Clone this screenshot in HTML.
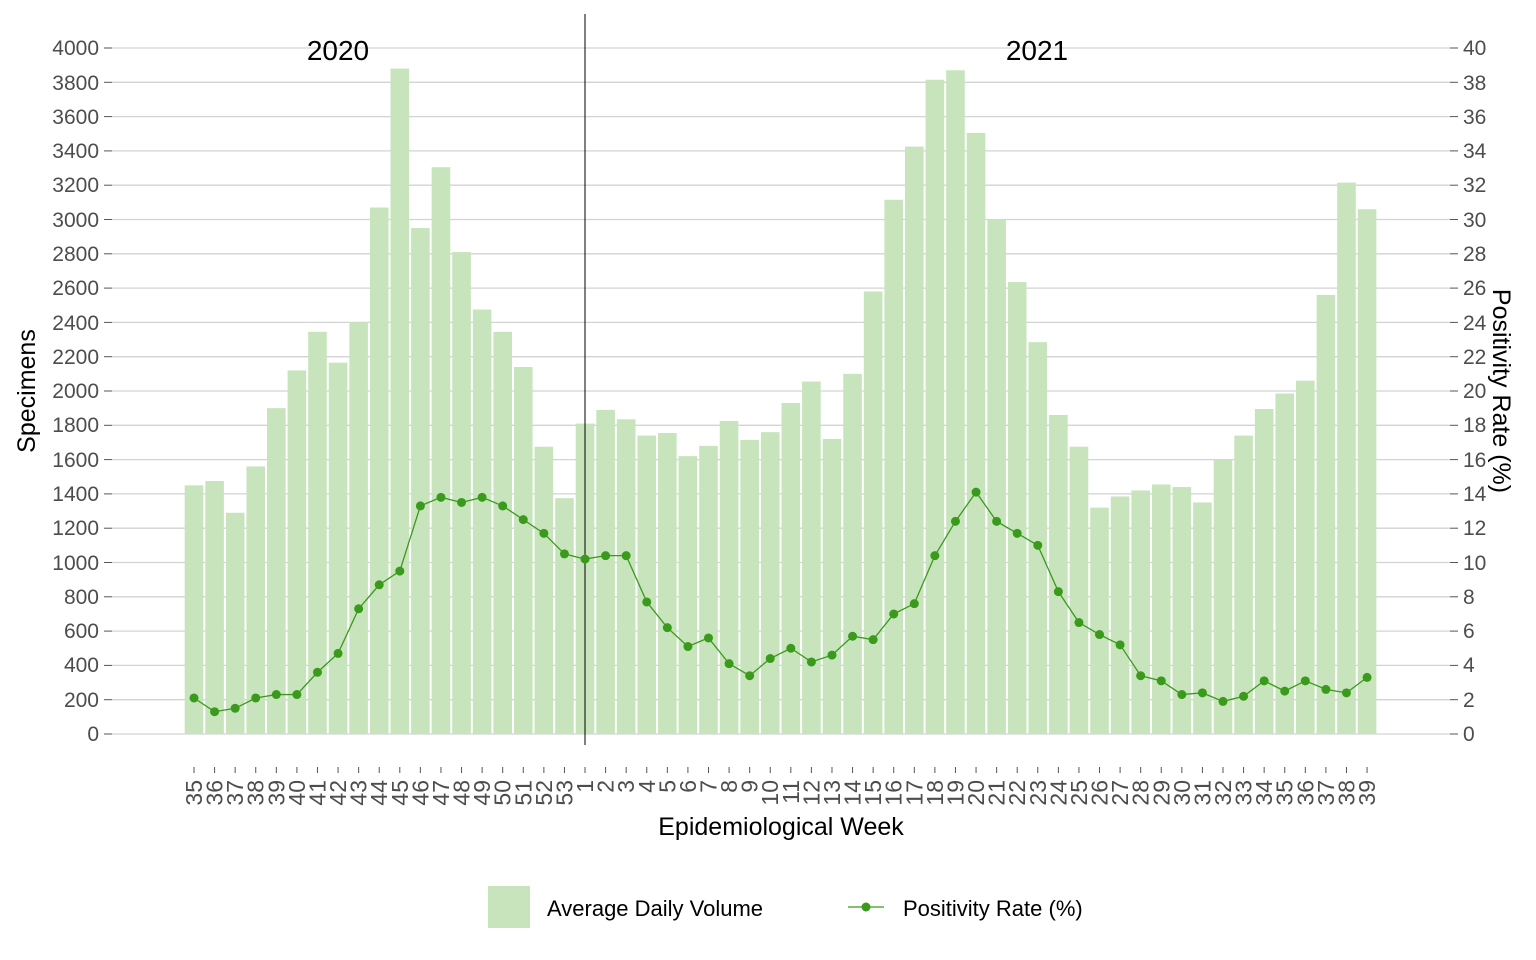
<!DOCTYPE html>
<html><head><meta charset="utf-8"><style>
html,body{margin:0;padding:0;background:#fff;}
svg{display:block;font-family:"Liberation Sans",Arial,sans-serif;}
.yl{font-size:21px;fill:#4d4d4d;}
.xl{font-size:23px;fill:#4d4d4d;}
</style></head><body>
<svg id="s" width="1536" height="960" xmlns="http://www.w3.org/2000/svg">
<g id="grid" stroke="#d3d3d3" stroke-width="1.3"></g>
<g id="bars" fill="#c8e4bc"></g>
<line x1="585" y1="14" x2="585" y2="745" stroke="#000" stroke-width="1"/>
<g id="line"></g>
<g id="ticks" stroke="#555" stroke-width="1"></g>
<g class="yl" text-anchor="end">
<text x="99" y="741">0</text><text x="99" y="707">200</text><text x="99" y="672">400</text><text x="99" y="638">600</text><text x="99" y="604">800</text><text x="99" y="570">1000</text><text x="99" y="535">1200</text><text x="99" y="501">1400</text><text x="99" y="467">1600</text><text x="99" y="432">1800</text><text x="99" y="398">2000</text><text x="99" y="364">2200</text><text x="99" y="330">2400</text><text x="99" y="295">2600</text><text x="99" y="261">2800</text><text x="99" y="227">3000</text><text x="99" y="192">3200</text><text x="99" y="158">3400</text><text x="99" y="124">3600</text><text x="99" y="90">3800</text><text x="99" y="55">4000</text>
</g>
<g class="yl" text-anchor="start">
<text x="1463" y="741">0</text><text x="1463" y="707">2</text><text x="1463" y="672">4</text><text x="1463" y="638">6</text><text x="1463" y="604">8</text><text x="1463" y="570">10</text><text x="1463" y="535">12</text><text x="1463" y="501">14</text><text x="1463" y="467">16</text><text x="1463" y="432">18</text><text x="1463" y="398">20</text><text x="1463" y="364">22</text><text x="1463" y="330">24</text><text x="1463" y="295">26</text><text x="1463" y="261">28</text><text x="1463" y="227">30</text><text x="1463" y="192">32</text><text x="1463" y="158">34</text><text x="1463" y="124">36</text><text x="1463" y="90">38</text><text x="1463" y="55">40</text>
</g>
<g class="xl" text-anchor="end">
<text transform="translate(202,780) rotate(-90)">35</text><text transform="translate(222.6,780) rotate(-90)">36</text><text transform="translate(243.2,780) rotate(-90)">37</text><text transform="translate(263.7,780) rotate(-90)">38</text><text transform="translate(284.3,780) rotate(-90)">39</text><text transform="translate(304.9,780) rotate(-90)">40</text><text transform="translate(325.5,780) rotate(-90)">41</text><text transform="translate(346.1,780) rotate(-90)">42</text><text transform="translate(366.6,780) rotate(-90)">43</text><text transform="translate(387.2,780) rotate(-90)">44</text><text transform="translate(407.8,780) rotate(-90)">45</text><text transform="translate(428.4,780) rotate(-90)">46</text><text transform="translate(449,780) rotate(-90)">47</text><text transform="translate(469.5,780) rotate(-90)">48</text><text transform="translate(490.1,780) rotate(-90)">49</text><text transform="translate(510.7,780) rotate(-90)">50</text><text transform="translate(531.3,780) rotate(-90)">51</text><text transform="translate(551.9,780) rotate(-90)">52</text><text transform="translate(572.4,780) rotate(-90)">53</text><text transform="translate(593,780) rotate(-90)">1</text><text transform="translate(613.6,780) rotate(-90)">2</text><text transform="translate(634.2,780) rotate(-90)">3</text><text transform="translate(654.8,780) rotate(-90)">4</text><text transform="translate(675.3,780) rotate(-90)">5</text><text transform="translate(695.9,780) rotate(-90)">6</text><text transform="translate(716.5,780) rotate(-90)">7</text><text transform="translate(737.1,780) rotate(-90)">8</text><text transform="translate(757.7,780) rotate(-90)">9</text><text transform="translate(778.2,780) rotate(-90)">10</text><text transform="translate(798.8,780) rotate(-90)">11</text><text transform="translate(819.4,780) rotate(-90)">12</text><text transform="translate(840,780) rotate(-90)">13</text><text transform="translate(860.6,780) rotate(-90)">14</text><text transform="translate(881.1,780) rotate(-90)">15</text><text transform="translate(901.7,780) rotate(-90)">16</text><text transform="translate(922.3,780) rotate(-90)">17</text><text transform="translate(942.9,780) rotate(-90)">18</text><text transform="translate(963.5,780) rotate(-90)">19</text><text transform="translate(984,780) rotate(-90)">20</text><text transform="translate(1004.6,780) rotate(-90)">21</text><text transform="translate(1025.2,780) rotate(-90)">22</text><text transform="translate(1045.8,780) rotate(-90)">23</text><text transform="translate(1066.4,780) rotate(-90)">24</text><text transform="translate(1086.9,780) rotate(-90)">25</text><text transform="translate(1107.5,780) rotate(-90)">26</text><text transform="translate(1128.1,780) rotate(-90)">27</text><text transform="translate(1148.7,780) rotate(-90)">28</text><text transform="translate(1169.3,780) rotate(-90)">29</text><text transform="translate(1189.8,780) rotate(-90)">30</text><text transform="translate(1210.4,780) rotate(-90)">31</text><text transform="translate(1231,780) rotate(-90)">32</text><text transform="translate(1251.6,780) rotate(-90)">33</text><text transform="translate(1272.2,780) rotate(-90)">34</text><text transform="translate(1292.7,780) rotate(-90)">35</text><text transform="translate(1313.3,780) rotate(-90)">36</text><text transform="translate(1333.9,780) rotate(-90)">37</text><text transform="translate(1354.5,780) rotate(-90)">38</text><text transform="translate(1375,780) rotate(-90)">39</text>
</g>
<text x="338" y="60" font-size="28" text-anchor="middle">2020</text>
<text x="1037" y="60" font-size="28" text-anchor="middle">2021</text>
<text transform="translate(35,391) rotate(-90)" font-size="25" text-anchor="middle">Specimens</text>
<text transform="translate(1493,391) rotate(90)" font-size="25" text-anchor="middle">Positivity Rate (%)</text>
<text x="781" y="835" font-size="25" text-anchor="middle">Epidemiological Week</text>
<rect x="488" y="886" width="42" height="42" fill="#c8e4bc"/>
<text x="547" y="916" font-size="22">Average Daily Volume</text>
<line x1="848" y1="907" x2="884" y2="907" stroke="#3a9a1c" stroke-width="1.3"/>
<circle cx="866" cy="907" r="4.5" fill="#3a9a1c"/>
<text x="903" y="916" font-size="22">Positivity Rate (%)</text>
</svg>
<script>
var NS="http://www.w3.org/2000/svg";
function el(t,a,p){var e=document.createElementNS(NS,t);for(var k in a)e.setAttribute(k,a[k]);document.getElementById(p).appendChild(e);}
for(var i=0;i<=20;i++){var y=734-i*34.3;
el("line",{x1:112,x2:1450,y1:y,y2:y},"grid");
el("line",{x1:104,x2:112,y1:y,y2:y},"ticks");
el("line",{x1:1450,x2:1458,y1:y,y2:y},"ticks");}
var v=[1450,1475,1290,1560,1900,2120,2345,2165,2400,3070,3880,2950,3305,2810,2475,2345,2140,1675,1375,
1810,1890,1835,1740,1755,1620,1680,1825,1715,1760,1930,2055,1720,2100,2580,3115,3425,3815,3870,3505,3000,2635,2285,1860,1675,1320,1385,1420,1455,1440,1350,1600,1740,1895,1985,2060,2560,3215,3060];
var r=[2.1,1.3,1.5,2.1,2.3,2.3,3.6,4.7,7.3,8.7,9.5,13.3,13.8,13.5,13.8,13.3,12.5,11.7,10.5,
10.2,10.4,10.4,7.7,6.2,5.1,5.6,4.1,3.4,4.4,5.0,4.2,4.6,5.7,5.5,7.0,7.6,10.4,12.4,14.1,12.4,11.7,11.0,8.3,6.5,5.8,5.2,3.4,3.1,2.3,2.4,1.9,2.2,3.1,2.5,3.1,2.6,2.4,3.3];
var pts=[];
for(var i=0;i<v.length;i++){var x=194+i*20.58;var t=734-v[i]*0.1715;
el("rect",{x:x-9.3,y:t,width:18.6,height:734-t},"bars");
el("line",{x1:x,x2:x,y1:767,y2:773},"ticks");
pts.push(x+","+(734-r[i]*17.15));}
el("polyline",{points:pts.join(" "),fill:"none",stroke:"#3a9a1c","stroke-width":1.3},"line");
for(var i=0;i<r.length;i++){var x=194+i*20.58;el("circle",{cx:x,cy:734-r[i]*17.15,r:4.5,fill:"#3a9a1c"},"line");}
</script>
</body></html>
